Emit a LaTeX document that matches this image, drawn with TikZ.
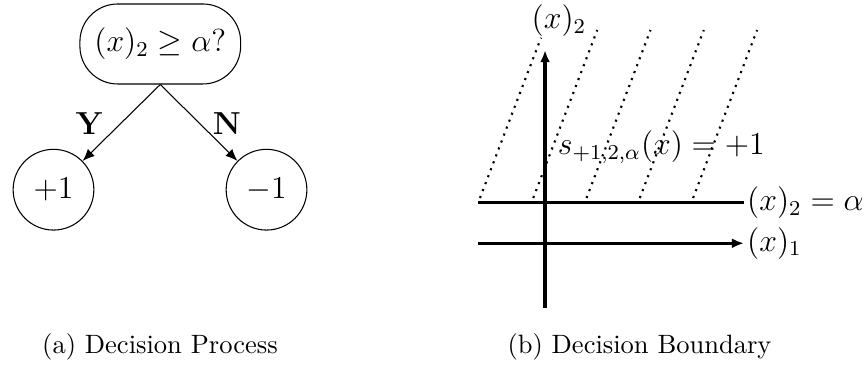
\documentclass[tikz,border=0pt]{standalone}
\usepackage{tikz}
\usetikzlibrary{arrows.meta}

\begin{document}
\begin{tikzpicture}[
  test/.style={draw, rounded corners=0.5cm, minimum width=2.13cm,
               minimum height=1.06cm, font=\large},
  leaf/.style={draw, circle, minimum size=1.07cm, inner sep=0pt, font=\large},
  ans/.style={font=\large\bfseries},
  axis/.style={very thick},
  region/.style={thick, dotted},
  lbl/.style={font=\large, inner sep=1pt},
  >={Latex[length=1.6mm, width=1.3mm]}
]
  \useasboundingbox (0,0) rectangle (11.49,-4.89);

  % (a) decision process
  \node[test] (q)   at (2.124,-0.583) {$(x)_2 \geq \alpha?$};
  \node[leaf] (pos) at (0.709,-2.514) {$+1$};
  \node[leaf] (neg) at (3.532,-2.514) {$-1$};
  \draw[->] (q.south) -- (pos);
  \draw[->] (q.south) -- (neg);
  \node[ans] (yes) at (1.18,-1.643)  {Y};
  \node[ans] (no)  at (3.008,-1.643) {N};

  % (b) decision boundary
  \coordinate (ybot) at (7.223,-4.082);
  \coordinate (ytop) at (7.223,-0.663);
  \coordinate (xl)   at (6.339,-3.224);
  \coordinate (xr)   at (9.86,-3.224);
  \coordinate (bl)   at (6.339,-2.681);
  \coordinate (br)   at (9.86,-2.681);
  \draw[axis,->] (ybot) -- (ytop);
  \draw[axis,->] (xl) -- (xr);
  \draw[axis]    (bl) -- (br);

  % shaded half plane
  \draw[region] (6.361,-2.624) -- (7.17,-0.50);
  \foreach \i in {1,...,4}
    \draw[region] ({6.361+0.706*\i},-2.624) -- ++(0.848,2.226);

  \node[lbl, anchor=west] (x1)  at (xr) {$(x)_1$};
  \node[lbl, anchor=west] (bnd) at (br) {$(x)_2 = \alpha$};
  \node[lbl] (x2) at (7.408,-0.278) {$(x)_2$};
  \node[lbl] (s)  at (8.764,-1.948) {$s_{+1,2,\alpha}(x) = +1$};

  % captions
  \node (capa) at (2.12,-4.60)  {(a) Decision Process};
  \node (capb) at (8.475,-4.60) {(b) Decision Boundary};
\end{tikzpicture}
\end{document}
